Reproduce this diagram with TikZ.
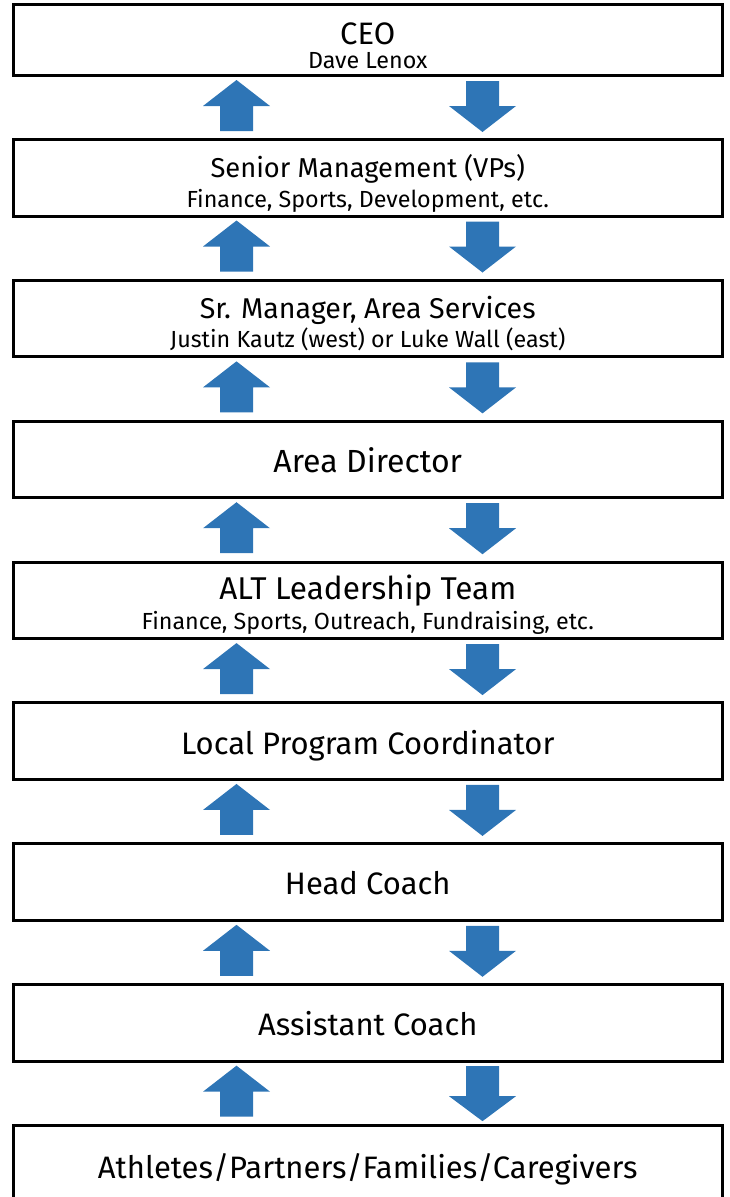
\documentclass[tikz,border=0pt]{standalone}
\usepackage{fontspec}
\setmainfont{Fira Sans}
\definecolor{arrowblue}{RGB}{46,117,182}
\begin{document}
\begin{tikzpicture}[x=1pt,y=1pt,
  orgbox/.style={draw=black,line width=3pt,fill=white,minimum width=708.5pt,inner sep=0pt,outer sep=0pt},
  ttl/.style={anchor=base,inner sep=0pt,font=\fontsize{31}{36}\selectfont},
  sub/.style={anchor=base,inner sep=0pt,font=\fontsize{23.3}{27}\selectfont},
  blk/.style={fill=arrowblue}]
\useasboundingbox (0,0) rectangle (729,-1197);
% boxes
\node[orgbox,minimum height=71pt] (b1) at (367.75,-40) {};
\foreach \i/\t in {2/139.5,3/280.36,4/421.22,5/562.08,6/702.94,7/843.8,8/984.66}{
  \node[orgbox,minimum height=76.5pt] (b\i) at (367.75,-\t-38.25) {};
}
\node[orgbox,minimum height=90pt] (b9) at (367.75,-1125.5-45) {};
% texts
\node[ttl] (t1) at (367.75,-44) {CEO};
\node[sub] (s1) at (367.75,-68) {Dave Lenox};
\node[ttl,font=\fontsize{27.3}{32}\selectfont] (t2) at (367.75,-177) {Senior Management (VPs)};
\node[sub] (s2) at (367.75,-207) {Finance, Sports, Development, etc.};
\node[ttl,font=\fontsize{28.6}{33}\selectfont] (t3) at (367.75,-318) {Sr. Manager, Area Services};
\node[sub] (s3) at (367.75,-347) {Justin Kautz (west) or Luke Wall (east)};
\node[ttl,font=\fontsize{32}{37}\selectfont] (t4) at (367.75,-472) {Area Director};
\node[ttl,font=\fontsize{31.5}{36}\selectfont] (t5) at (367.75,-599) {ALT Leadership Team};
\node[sub] (s5) at (367.75,-629) {Finance, Sports, Outreach, Fundraising, etc.};
\node[ttl] (t6) at (367.75,-754) {Local Program Coordinator};
\node[ttl] (t7) at (367.75,-894) {Head Coach};
\node[ttl] (t8) at (367.75,-1035) {Assistant Coach};
\node[ttl] (t9) at (367.75,-1178) {Athletes/Partners/Families/Caregivers};
% block arrows between boxes
\foreach \k in {1,...,7}{
  \coordinate (u\k) at ([yshift=-4.5pt]b\k.south -| 236.5,0);
  \coordinate (d\k) at ([yshift=-56.5pt]b\k.south -| 482.5,0);
  \fill[blk] (u\k) -- ++(33.5,-26) -- ++(-17,0) -- ++(0,-25) -- ++(-33,0) -- ++(0,25) -- ++(-17,0) -- cycle;
  \fill[blk] (d\k) -- ++(33.5,26) -- ++(-17,0) -- ++(0,25) -- ++(-33,0) -- ++(0,-25) -- ++(-17,0) -- cycle;
}
\coordinate (u8) at ([yshift=-4.5pt]b8.south -| 236.5,0);
\coordinate (d8) at ([yshift=-60pt]b8.south -| 482.5,0);
\fill[blk] (u8) -- ++(33.5,-26) -- ++(-17,0) -- ++(0,-25) -- ++(-33,0) -- ++(0,25) -- ++(-17,0) -- cycle;
\fill[blk] (d8) -- ++(33.5,25) -- ++(-17,0) -- ++(0,30) -- ++(-33,0) -- ++(0,-30) -- ++(-17,0) -- cycle;
\end{tikzpicture}
\end{document}
